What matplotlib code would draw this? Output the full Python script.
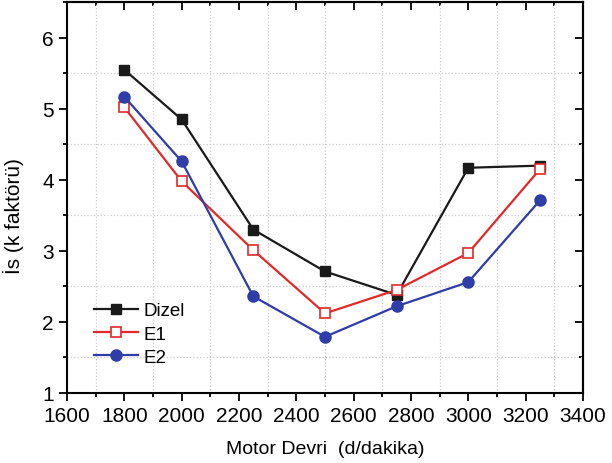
import matplotlib.pyplot as plt
from matplotlib.ticker import MultipleLocator

plt.rcParams['font.family'] = ['Liberation Sans', 'DejaVu Sans']

rpm = [1800, 2000, 2250, 2500, 2750, 3000, 3250]
dizel = [5.55, 4.85, 3.30, 2.71, 2.38, 4.17, 4.20]
e1 = [5.02, 3.98, 3.01, 2.12, 2.45, 2.97, 4.15]
e2 = [5.17, 4.26, 2.36, 1.79, 2.22, 2.56, 3.71]

fig = plt.figure(figsize=(6.12, 4.64), dpi=100)
ax = fig.add_axes([0.1095, 0.151, 0.843, 0.842])

ax.plot(rpm, dizel, color='#1a1a1a', lw=1.6, marker='s', ms=7, label='Dizel')
ax.plot(rpm, e1, color='#e02a2a', lw=1.6, marker='s', ms=7,
        mfc='white', mec='#e02a2a', mew=1.2, label='E1')
ax.plot(rpm, e2, color='#2e3da8', lw=1.6, marker='o', ms=8, label='E2')

ax.set_xlim(1600, 3400)
ax.set_ylim(1, 6.5)
ax.xaxis.set_major_locator(MultipleLocator(200))
ax.xaxis.set_minor_locator(MultipleLocator(100))
ax.yaxis.set_major_locator(MultipleLocator(1))
ax.yaxis.set_minor_locator(MultipleLocator(0.5))

# dotted grid sits on the minor positions only
ax.grid(which='minor', color='#cccccc', ls=':', lw=0.9)
ax.grid(which='major', visible=False)

for s in ax.spines.values():
    s.set_linewidth(1.5)
ax.tick_params(which='both', direction='out', width=1.3, labelsize=15)
ax.tick_params(which='major', length=6)
ax.tick_params(which='minor', length=3)

# mirrored ticks on top and right point inwards
top = ax.secondary_xaxis('top')
top.xaxis.set_major_locator(MultipleLocator(200))
top.xaxis.set_minor_locator(MultipleLocator(100))
top.tick_params(which='both', direction='in', width=1.3, labeltop=False)
top.tick_params(which='major', length=6)
top.tick_params(which='minor', length=3)
top.spines['top'].set_linewidth(1.5)
right = ax.secondary_yaxis('right')
right.yaxis.set_major_locator(MultipleLocator(1))
right.yaxis.set_minor_locator(MultipleLocator(0.5))
right.tick_params(which='both', direction='in', width=1.3, labelright=False)
right.tick_params(which='major', length=6)
right.tick_params(which='minor', length=3)
right.spines['right'].set_linewidth(1.5)

ax.set_xlabel('Motor Devri  (d/dakika)', fontsize=14, labelpad=11)
ax.set_ylabel('İs (k faktörü)', fontsize=15)
ax.yaxis.set_label_coords(-0.083, 0.455)

ax.legend(loc='lower left', bbox_to_anchor=(0.038, 0.05), frameon=False,
          fontsize=13.5, handlelength=2.35, handletextpad=0.3,
          labelspacing=0.33, borderaxespad=0)

fig.savefig('out.png', dpi=100)
